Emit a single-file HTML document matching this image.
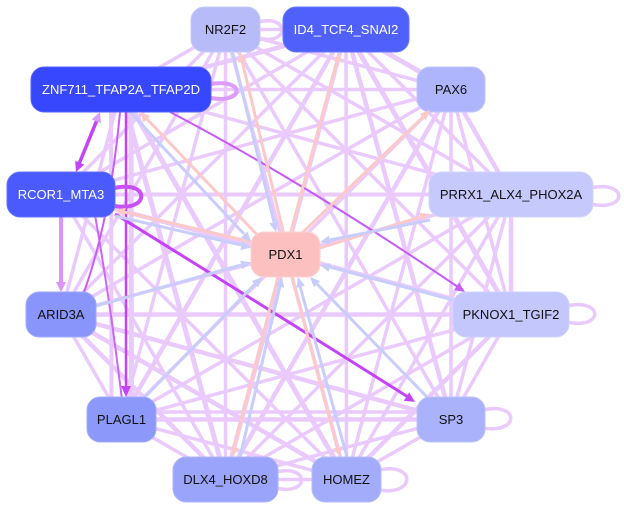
<!DOCTYPE html>
<html><head><meta charset="utf-8"><style>
html,body{margin:0;padding:0;background:#fff;width:624px;height:509px;overflow:hidden}
svg{display:block}
text{font-family:"Liberation Sans",Arial,sans-serif;font-size:13px;text-anchor:middle}
</style></head><body>
<svg width="624" height="509" viewBox="0 0 624 509" xmlns="http://www.w3.org/2000/svg">
<g fill="none" stroke="#eacafd" stroke-width="3.5">
<line x1="225.5" y1="29.5" x2="346" y2="29.5"/>
<line x1="225.5" y1="29.5" x2="121" y2="89.5"/>
<line x1="225.5" y1="29.5" x2="451" y2="89.5"/>
<line x1="225.5" y1="29.5" x2="61" y2="194.5"/>
<line x1="225.5" y1="29.5" x2="511" y2="194.5"/>
<line x1="225.5" y1="29.5" x2="61" y2="314.5"/>
<line x1="225.5" y1="29.5" x2="511" y2="314.5"/>
<line x1="225.5" y1="29.5" x2="121.5" y2="419.5"/>
<line x1="225.5" y1="29.5" x2="451" y2="419.5"/>
<line x1="225.5" y1="29.5" x2="225.5" y2="479.5"/>
<line x1="225.5" y1="29.5" x2="346.5" y2="479.5"/>
<line x1="346" y1="29.5" x2="121" y2="89.5" stroke-width="4.5"/>
<line x1="346" y1="29.5" x2="451" y2="89.5" stroke-width="5"/>
<line x1="346" y1="29.5" x2="61" y2="194.5"/>
<line x1="346" y1="29.5" x2="511" y2="194.5"/>
<line x1="346" y1="29.5" x2="61" y2="314.5"/>
<line x1="346" y1="29.5" x2="511" y2="314.5" stroke-width="5"/>
<line x1="346" y1="29.5" x2="121.5" y2="419.5" stroke-width="4.5"/>
<line x1="346" y1="29.5" x2="451" y2="419.5" stroke-width="4.5"/>
<line x1="346" y1="29.5" x2="225.5" y2="479.5" stroke-width="4.5"/>
<line x1="346" y1="29.5" x2="346.5" y2="479.5"/>
<line x1="121" y1="89.5" x2="451" y2="89.5"/>
<line x1="121" y1="89.5" x2="511" y2="194.5"/>
<line x1="121" y1="89.5" x2="61" y2="314.5"/>
<line x1="121" y1="89.5" x2="225.5" y2="479.5" stroke-width="5"/>
<line x1="121" y1="89.5" x2="346.5" y2="479.5" stroke-width="5"/>
<line x1="131" y1="89.5" x2="131.5" y2="419.5" stroke-width="5"/>
<line x1="111" y1="89.5" x2="111.5" y2="419.5" stroke-width="4"/>
<line x1="451" y1="89.5" x2="61" y2="194.5"/>
<line x1="451" y1="89.5" x2="511" y2="194.5" stroke-width="4.5"/>
<line x1="451" y1="89.5" x2="61" y2="314.5"/>
<line x1="451" y1="89.5" x2="511" y2="314.5"/>
<line x1="451" y1="89.5" x2="121.5" y2="419.5"/>
<line x1="451" y1="89.5" x2="451" y2="419.5"/>
<line x1="451" y1="89.5" x2="225.5" y2="479.5" stroke-width="4.5"/>
<line x1="451" y1="89.5" x2="346.5" y2="479.5"/>
<line x1="61" y1="194.5" x2="511" y2="194.5" stroke-width="4"/>
<line x1="61" y1="194.5" x2="511" y2="314.5" stroke-width="4.5"/>
<line x1="61" y1="194.5" x2="225.5" y2="479.5"/>
<line x1="61" y1="194.5" x2="346.5" y2="479.5"/>
<line x1="511" y1="194.5" x2="61" y2="314.5"/>
<line x1="511" y1="194.5" x2="511" y2="314.5" stroke-width="4.5"/>
<line x1="511" y1="194.5" x2="121.5" y2="419.5"/>
<line x1="511" y1="194.5" x2="451" y2="419.5"/>
<line x1="511" y1="194.5" x2="225.5" y2="479.5"/>
<line x1="511" y1="194.5" x2="346.5" y2="479.5"/>
<line x1="61" y1="314.5" x2="511" y2="314.5" stroke-width="4.5"/>
<line x1="61" y1="314.5" x2="121.5" y2="419.5"/>
<line x1="61" y1="314.5" x2="451" y2="419.5" stroke-width="4.5"/>
<line x1="61" y1="314.5" x2="225.5" y2="479.5" stroke-width="4.5"/>
<line x1="61" y1="314.5" x2="346.5" y2="479.5" stroke-width="4.5"/>
<line x1="511" y1="314.5" x2="121.5" y2="419.5"/>
<line x1="511" y1="314.5" x2="451" y2="419.5"/>
<line x1="511" y1="314.5" x2="225.5" y2="479.5"/>
<line x1="511" y1="314.5" x2="346.5" y2="479.5" stroke-width="4.5"/>
<line x1="121.5" y1="419.5" x2="451" y2="419.5" stroke-width="4.5"/>
<line x1="121.5" y1="412" x2="451" y2="412"/>
<line x1="121.5" y1="419.5" x2="225.5" y2="479.5"/>
<line x1="121.5" y1="419.5" x2="346.5" y2="479.5"/>
<line x1="451" y1="419.5" x2="225.5" y2="479.5"/>
<line x1="451" y1="419.5" x2="346.5" y2="479.5"/>
<line x1="225.5" y1="479.5" x2="346.5" y2="479.5"/>
<path d="M258 22 C290 14 290 46 258 38"/>
<path d="M591 188 C628 180 628 212 591 204"/>
<path d="M567 306 C604 298 604 330 567 322"/>
<path d="M483 410 C520 402 520 434 483 428"/>
<path d="M379 470 C416 462 416 496 379 490"/>
<path d="M276 472 C310 464 310 496 276 488"/>
</g>
<g fill="none" stroke-linecap="butt">
<line x1="61" y1="194.5" x2="61" y2="284" stroke="#dc94fa" stroke-width="4"/>
<path d="M97 120 L79 164" stroke="#c443f8" stroke-width="3.5"/>
<path d="M126 100 L126 388" stroke="#c443f8" stroke-width="2.5"/>
<path d="M95 215 Q110 300 122 400" stroke="#cc66f8" stroke-width="2"/>
<path d="M120 112 Q110 220 84 292" stroke="#c95cf8" stroke-width="2"/>
<path d="M170 112 Q300 180 458 287" stroke="#c75af8" stroke-width="2"/>
<path d="M115 214 Q270 310 408 397" stroke="#c443f8" stroke-width="3"/>
<path d="M211 84 C245 78 245 104 211 98" stroke="#dc9cfa" stroke-width="4"/>
<path d="M115 188 C150 180 150 212 115 206" stroke="#c850f8" stroke-width="4"/>
</g>
<g fill="none" stroke-width="3">
<line x1="232" y1="50" x2="274" y2="222" stroke="#c8cdfc"/>
<line x1="242" y1="61" x2="284" y2="235" stroke="#fcc9c9"/>
<line x1="337" y1="61" x2="290" y2="235" stroke="#fcc9c9"/>
<line x1="423" y1="117" x2="300" y2="235" stroke="#fcc9c9"/>
<line x1="147" y1="119" x2="262" y2="240" stroke="#fcc9c9"/>
<line x1="130" y1="112" x2="244" y2="234" stroke="#c8cdfc"/>
<line x1="124" y1="212" x2="252" y2="242" stroke="#fcc9c9"/>
<line x1="115" y1="216" x2="241" y2="245" stroke="#c8cdfc"/>
<line x1="420" y1="217" x2="320" y2="248" stroke="#fcc9c9"/>
<line x1="430" y1="220" x2="330" y2="240" stroke="#c8cdfc"/>
<line x1="96" y1="306" x2="241" y2="265" stroke="#c8cdfc"/>
<line x1="453" y1="300" x2="330" y2="267" stroke="#c8cdfc"/>
<line x1="145" y1="397" x2="255" y2="284" stroke="#c8cdfc"/>
<line x1="427" y1="397" x2="317" y2="284" stroke="#c8cdfc"/>
<line x1="234" y1="447" x2="278" y2="277" stroke="#fcc9c9"/>
<line x1="240" y1="457" x2="280" y2="286" stroke="#c8cdfc"/>
<line x1="337" y1="447" x2="292" y2="277" stroke="#fcc9c9"/>
<line x1="347" y1="457" x2="300" y2="286" stroke="#c8cdfc"/>
</g>
<g stroke-width="1">
<rect x="191" y="7" width="69" height="45" rx="13" fill="#b7bcf9" stroke="#c6caf9"/>
<rect x="283" y="7" width="126" height="45" rx="13" fill="#5060fb" stroke="#6a78fb"/>
<rect x="31" y="67" width="180" height="45" rx="13" fill="#3747fe" stroke="#5563fb"/>
<rect x="417" y="67" width="68" height="45" rx="13" fill="#aeb5fc" stroke="#c0c5fb"/>
<rect x="7" y="172" width="108" height="45" rx="13" fill="#4a5afc" stroke="#6572fb"/>
<rect x="429" y="172" width="164" height="45" rx="13" fill="#c6c9fc" stroke="#d2d4fb"/>
<rect x="251" y="232" width="69" height="45" rx="13" fill="#fcc0c0" stroke="#fcd0d0"/>
<rect x="26" y="292" width="70" height="45" rx="13" fill="#8a95fb" stroke="#a2aafb"/>
<rect x="453" y="292" width="116" height="45" rx="13" fill="#c3c7fc" stroke="#d0d3fb"/>
<rect x="87" y="397" width="69" height="45" rx="13" fill="#8d98fb" stroke="#a4acfb"/>
<rect x="417" y="397" width="68" height="45" rx="13" fill="#aab2fc" stroke="#bcc2fb"/>
<rect x="173" y="457" width="105" height="45" rx="13" fill="#9aa4fb" stroke="#aeb5fb"/>
<rect x="312" y="457" width="69" height="45" rx="13" fill="#a3acfb" stroke="#b6bcfb"/>
</g>
<!-- arrowheads -->
<g stroke="none">
<polygon points="76,172 84.3,164.6 75.1,160.8" fill="#c443f8"/>
<polygon points="100,112 100.9,123.2 91.7,119.4" fill="#dc9cfa"/>
<polygon points="61,292 66,282 56,282" fill="#dc94fa"/>
<polygon points="126,397 131,386 121,386" fill="#c443f8"/>
<polygon points="415,402 403.8,400.8 409.2,392.4" fill="#c443f8"/>
<polygon points="465,292 454.2,290.1 459.2,282.7" fill="#c75af8"/>
<polygon points="240,52 246.7,60.6 237.9,62.8" fill="#fcc9c9"/>
<polygon points="340,52 341.7,62.8 333.1,60.4" fill="#fcc9c9"/>
<polygon points="430,110 425.9,120.1 419.7,113.7" fill="#fcc9c9"/>
<polygon points="140,112 150.2,116.1 143.6,122.3" fill="#fcc9c9"/>
<polygon points="115,210 125.7,207.9 123.7,216.7" fill="#fcc9c9"/>
<polygon points="430,214 421.7,221.3 419.1,212.7" fill="#fcc9c9"/>
<polygon points="232,457 238.9,448.4 230.1,446.2" fill="#fcc9c9"/>
<polygon points="340,457 341.7,446.1 333.1,448.5" fill="#fcc9c9"/>
<polygon points="276,232 278,221.2 269.2,223.4" fill="#c8cdfc"/>
<polygon points="251,241.8 247.5,231.4 240.9,237.6" fill="#c8cdfc"/>
<polygon points="251,247.8 242.3,241.1 240.3,249.9" fill="#c8cdfc"/>
<polygon points="320,242 330.7,244.4 328.9,235.6" fill="#c8cdfc"/>
<polygon points="251,262.3 242.6,269.3 240.2,260.7" fill="#c8cdfc"/>
<polygon points="320,265 330.8,263.1 328.6,271.9" fill="#c8cdfc"/>
<polygon points="262,277 258.2,287.3 251.8,281.1" fill="#c8cdfc"/>
<polygon points="310,277 320.2,281.1 313.8,287.3" fill="#c8cdfc"/>
<polygon points="282,277 284.1,287.7 275.3,285.7" fill="#c8cdfc"/>
<polygon points="298,277 304.9,285.5 296.3,287.9" fill="#c8cdfc"/>
</g>
<g>
<text x="225.5" y="34" fill="#111">NR2F2</text>
<text x="346" y="34" fill="#fff">ID4_TCF4_SNAI2</text>
<text x="121" y="94" fill="#fff">ZNF711_TFAP2A_TFAP2D</text>
<text x="451" y="94" fill="#111">PAX6</text>
<text x="61" y="199" fill="#fff">RCOR1_MTA3</text>
<text x="511" y="199" fill="#111">PRRX1_ALX4_PHOX2A</text>
<text x="285.5" y="259" fill="#111">PDX1</text>
<text x="61" y="319" fill="#111">ARID3A</text>
<text x="511" y="319" fill="#111">PKNOX1_TGIF2</text>
<text x="121.5" y="424" fill="#111">PLAGL1</text>
<text x="451" y="424" fill="#111">SP3</text>
<text x="225.5" y="484" fill="#111">DLX4_HOXD8</text>
<text x="346.5" y="484" fill="#111">HOMEZ</text>
</g>
</svg>
</body></html>
